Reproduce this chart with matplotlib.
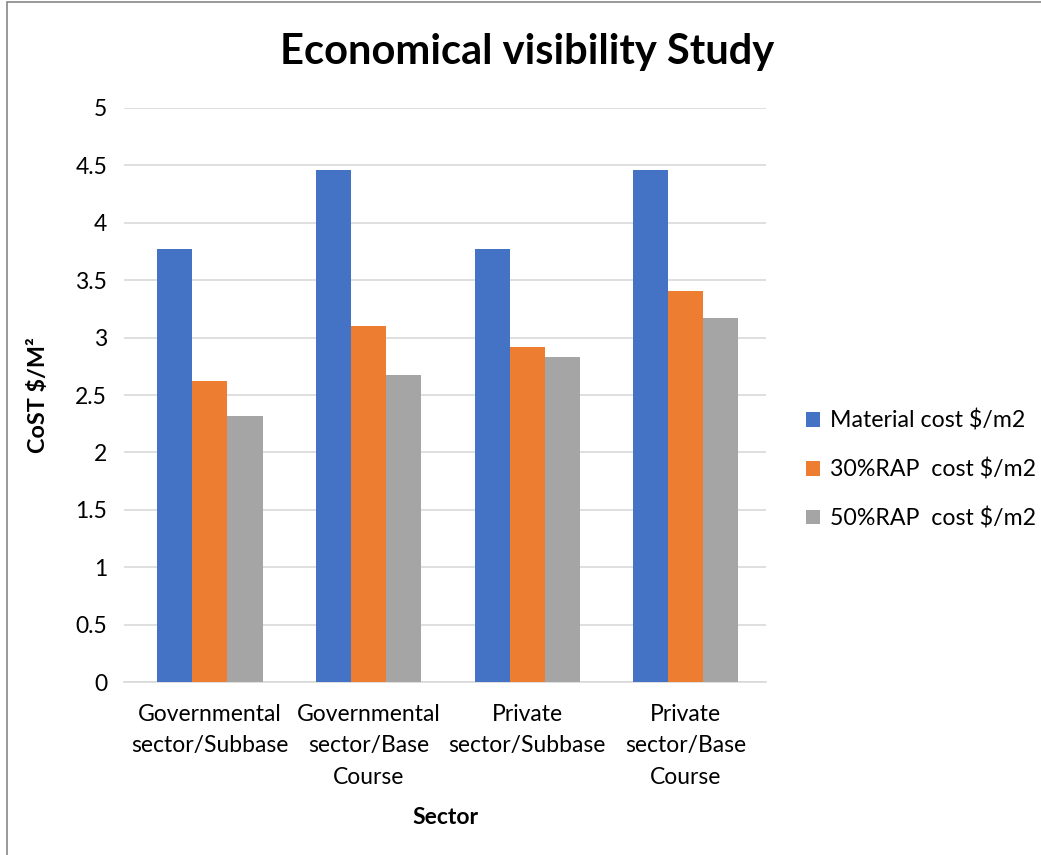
import matplotlib.pyplot as plt
import numpy as np
from matplotlib.patches import Rectangle

categories = ['Governmental\nsector/Subbase', 'Governmental\nsector/Base\nCourse',
              'Private\nsector/Subbase', 'Private\nsector/Base\nCourse']
material_cost = [3.77, 4.46, 3.77, 4.46]
rap30_cost = [2.62, 3.10, 2.92, 3.41]
rap50_cost = [2.32, 2.67, 2.83, 3.17]
series_names = ['Material cost $/m2', '30%RAP  cost $/m2', '50%RAP  cost $/m2']
colors = ['#4472C4', '#ED7D31', '#A5A5A5']

plt.rcParams['font.family'] = ['Lato', 'DejaVu Sans']

fig = plt.figure(figsize=(10.41, 8.55), dpi=100)
ax = fig.add_axes([0.119, 0.2023, 0.617, 0.6714])

# outer chart border
fig.patches.append(Rectangle((7 / 1041, -0.01), 1.05, 1 - 2 / 855 + 0.01, transform=fig.transFigure,
                             fill=False, edgecolor='#888888', linewidth=1.2))

x = np.arange(len(categories))
w = 0.221
for i, (vals, name) in enumerate(zip([material_cost, rap30_cost, rap50_cost], series_names)):
    ax.bar(x + (i - 1) * w, vals, w, color=colors[i], label=name, zorder=3)

ax.set_xlim(-0.543, 3.508)
ax.set_ylim(0, 5)
ax.set_yticks(np.arange(0, 5.01, 0.5))
ax.set_yticklabels(['0', '0.5', '1', '1.5', '2', '2.5', '3', '3.5', '4', '4.5', '5'])
ax.yaxis.grid(True, color='#D9D9D9', linewidth=1.2, zorder=0)
ax.set_xticks(x)
ax.set_xticklabels(categories, fontsize=16.5, linespacing=1.6)
ax.tick_params(axis='y', labelsize=16.5, length=0, pad=12)
ax.tick_params(axis='x', length=0, pad=16)
for s in ['left', 'right', 'top']:
    ax.spines[s].set_visible(False)
ax.spines['bottom'].set_color('#D9D9D9')
ax.spines['bottom'].set_linewidth(1.2)

ax.set_xlabel('Sector', fontsize=16.5, fontweight='bold', labelpad=14)
ax.set_ylabel('CoST $/M²', fontsize=16.8, fontweight='bold', labelpad=19)
fig.text(0.506, 0.939, 'Economical visibility Study', fontsize=30, fontweight='bold',
         ha='center', va='center')

ax.legend(loc='center left', bbox_to_anchor=(1.03, 0.37), frameon=False, fontsize=16.7,
          handlelength=0.6, handleheight=0.6, labelspacing=1.15, handletextpad=0.4)

fig.savefig('out.png', dpi=100)
